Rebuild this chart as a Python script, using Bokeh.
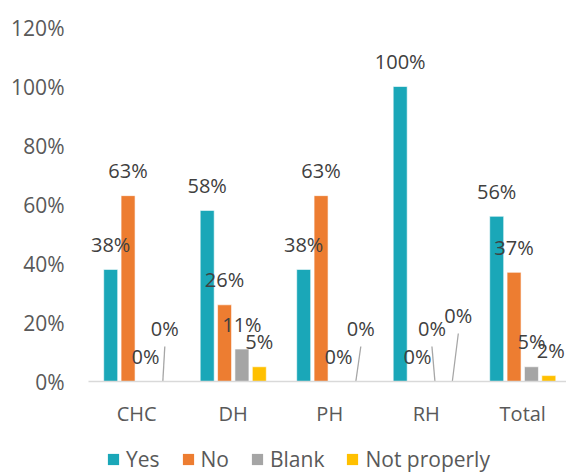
from bokeh.plotting import figure
from bokeh.layouts import column
from bokeh.models import (Range1d, ColumnDataSource, Legend, LegendItem,
                          NumeralTickFormatter, FixedTicker)
from bokeh.core.properties import value
from bokeh.embed import file_html
from bokeh.resources import INLINE

# ---- data ----
categories = ["CHC", "DH", "PH", "RH", "Total"]
series_names = ["Yes", "No", "Blank", "Not properly"]
yes = [0.38, 0.58, 0.38, 1.00, 0.56]
no = [0.63, 0.26, 0.63, 0.00, 0.37]
blank = [0.00, 0.11, 0.00, 0.00, 0.05]
not_properly = [0.00, 0.05, 0.00, 0.00, 0.02]
y_ticks = [0, 0.2, 0.4, 0.6, 0.8, 1.0, 1.2]

# ---- styles ----
colors = ["#1AA7B8", "#ED7D31", "#A5A5A5", "#FFC000"]
offsets = [-0.27, -0.09, 0.09, 0.27]
bar_w = 0.145
FONT = "Open Sans"
PX_X = 96.5          # px per category
PX_Y = 354 / 1.2     # px per unit of y

# manual label placement (px above bar top / px shift) for relocated labels
label_lift = {("Not properly", "CHC"): 53, ("Not properly", "PH"): 53,
              ("Blank", "RH"): 53, ("Not properly", "RH"): 66}
label_shift = {("Not properly", "CHC"): 2, ("Not properly", "PH"): 5,
               ("Blank", "RH"): -3, ("Not properly", "RH"): 6,
               ("Not properly", "Total"): 2}

W, H1, H2 = 566, 440, 36
p = figure(width=W, height=H1, output_backend="svg", toolbar_location=None,
           x_range=Range1d(-0.5, -0.5 + (W - 88) / PX_X), y_range=Range1d(0, 1.2),
           min_border_left=88, min_border_right=0, min_border_top=27,
           min_border_bottom=H1 - 381)
p.outline_line_color = None
p.xgrid.grid_line_color = None
p.ygrid.grid_line_color = None

# ---- legend strip figure (aligned under the chart) ----
p2 = figure(width=W, height=H2, output_backend="svg", toolbar_location=None,
            x_range=Range1d(0, 1), y_range=Range1d(10, 11),
            x_axis_type=None, y_axis_type=None,
            min_border_left=0, min_border_right=0, min_border_top=0,
            min_border_bottom=0)
p2.outline_line_color = None
p2.xgrid.grid_line_color = None
p2.ygrid.grid_line_color = None

all_vals = [yes, no, blank, not_properly]
items = []
lab = dict(x=[], y=[], text=[], yo=[])
seg = dict(x0=[], y0=[], x1=[], y1=[])
for name, vals, col, off in zip(series_names, all_vals, colors, offsets):
    xs = [i + off for i in range(len(categories))]
    src = ColumnDataSource(dict(x=xs, top=vals))
    p.vbar(x="x", top="top", width=bar_w, bottom=0, source=src,
           fill_color=col, line_color="white", line_width=0.6)
    # same data in the legend strip (outside its visible range) -> swatch only
    r2 = p2.vbar(x="x", top="top", width=bar_w, bottom=0, source=src,
                 fill_color=col, line_color=None)
    items.append(LegendItem(label=name, renderers=[r2]))
    for cat, x, v in zip(categories, xs, vals):
        key = (name, cat)
        lift = label_lift.get(key, 25)
        sh = label_shift.get(key, 0)
        lab["x"].append(x + sh / PX_X)
        lab["y"].append(v)
        lab["text"].append(f"{round(v * 100)}%")
        lab["yo"].append(-lift)
        if key in label_lift:
            seg["x0"].append(x)
            seg["y0"].append(0)
            seg["x1"].append(x + sh / PX_X)
            seg["y1"].append((lift - 18) / PX_Y)

p.segment(x0="x0", y0="y0", x1="x1", y1="y1", source=ColumnDataSource(seg),
          line_color="#A6A6A6", line_width=1.3)
p.text(x="x", y="y", text="text", y_offset="yo", source=ColumnDataSource(lab),
       text_font=value(FONT), text_font_size="20px", text_color="#404040",
       text_align="center", text_baseline="middle")

# axes
p.xaxis.ticker = FixedTicker(ticks=list(range(len(categories))))
p.xaxis.major_label_overrides = {i: c for i, c in enumerate(categories)}
p.xaxis.axis_line_color = "#D9D9D9"
p.xaxis.axis_line_width = 1.3
p.xaxis.major_tick_line_color = None
p.xaxis.minor_tick_line_color = None
p.xaxis.major_label_text_font = FONT
p.xaxis.major_label_text_font_size = "20px"
p.xaxis.major_label_text_color = "#595959"
p.xaxis.major_label_standoff = 12

p.yaxis.ticker = FixedTicker(ticks=y_ticks)
p.yaxis.formatter = NumeralTickFormatter(format="0%")
p.yaxis.axis_line_color = None
p.yaxis.major_tick_line_color = None
p.yaxis.minor_tick_line_color = None
p.yaxis.major_label_text_font = FONT
p.yaxis.major_label_text_font_size = "21px"
p.yaxis.major_label_text_color = "#595959"
p.yaxis.major_label_standoff = 18

legend = Legend(items=items, orientation="horizontal", location=(18, 3),
                glyph_width=14, glyph_height=14, label_standoff=6, spacing=21,
                padding=0, margin=0, border_line_color=None,
                background_fill_alpha=0, label_text_font=FONT,
                label_text_font_size="21px", label_text_color="#595959",
                label_height=20)
p2.add_layout(legend)

open("out.html", "w").write(file_html(column(p, p2, spacing=0), INLINE))
